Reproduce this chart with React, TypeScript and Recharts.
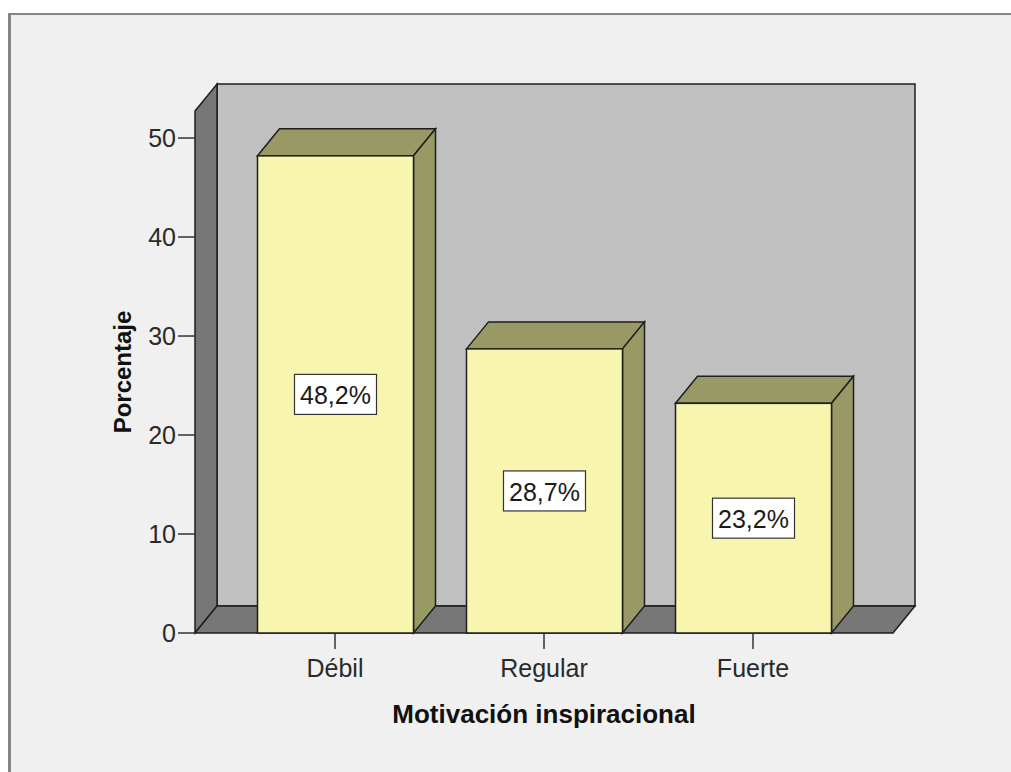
import { Bar, BarChart, LabelList, XAxis, YAxis, usePlotArea } from "recharts";

const categories = ["Débil", "Regular", "Fuerte"];
const percentages = [48.2, 28.7, 23.2];
const percentLabels = ["48,2%", "28,7%", "23,2%"];
const yTicks = [0, 10, 20, 30, 40, 50];

const FONT = '"Liberation Sans", Arial, sans-serif';
const DEPTH_X = 22;
const DEPTH_Y = 27;
const EDGE = "#1e1e1e";

const chartData = categories.map((name, i) => ({
  name,
  value: percentages[i],
  label: percentLabels[i],
}));

// back wall, left wall and floor of the 3D box
function Walls() {
  const area = usePlotArea();
  if (!area) return null;
  const { x, y, width: w, height: h } = area;
  const bx = x + DEPTH_X;
  const by = y - DEPTH_Y;
  return (
    <g>
      <rect x={bx} y={by} width={w} height={h} fill="#c0c0c0" stroke={EDGE} strokeWidth={1.5} />
      <polygon
        points={`${x},${y} ${bx},${by} ${bx},${by + h} ${x},${y + h}`}
        fill="#777777"
        stroke={EDGE}
        strokeWidth={1.5}
      />
      <polygon
        points={`${x},${y + h} ${bx},${by + h} ${bx + w},${by + h} ${x + w},${y + h}`}
        fill="#777777"
        stroke={EDGE}
        strokeWidth={1.5}
      />
    </g>
  );
}

function Bar3D(props: any) {
  const { x, y, width: w, height: h } = props;
  if (h == null || w == null) return null;
  const dx = DEPTH_X;
  const dy = DEPTH_Y;
  return (
    <g>
      <polygon
        points={`${x},${y} ${x + w},${y} ${x + w + dx},${y - dy} ${x + dx},${y - dy}`}
        fill="#999966"
        stroke={EDGE}
        strokeWidth={1.5}
      />
      <polygon
        points={`${x + w},${y} ${x + w + dx},${y - dy} ${x + w + dx},${y + h - dy} ${x + w},${y + h}`}
        fill="#999966"
        stroke={EDGE}
        strokeWidth={1.5}
      />
      <rect x={x} y={y} width={w} height={h} fill="#f8f5ae" stroke={EDGE} strokeWidth={1.5} />
    </g>
  );
}

function BoxLabel(props: any) {
  const { x, y, width, height, value } = props;
  const cx = x + width / 2;
  const cy = y + height / 2;
  const bw = 82;
  const bh = 40;
  return (
    <g>
      <rect x={cx - bw / 2} y={cy - bh / 2} width={bw} height={bh} fill="#ffffff" stroke="#333" strokeWidth={1.2} />
      <text
        x={cx}
        y={cy + 1}
        textAnchor="middle"
        dominantBaseline="central"
        fontFamily={FONT}
        fontSize={25}
        fill="#1a1a1a"
      >
        {value}
      </text>
    </g>
  );
}

function YTitle(props: any) {
  const { viewBox } = props;
  const cx = viewBox.x + 7;
  const cy = viewBox.y + viewBox.height / 2;
  return (
    <text
      x={cx}
      y={cy}
      transform={`rotate(-90, ${cx}, ${cy})`}
      textAnchor="middle"
      dominantBaseline="central"
      fontFamily={FONT}
      fontWeight="bold"
      fontSize={24}
      fill="#111"
    >
      Porcentaje
    </text>
  );
}

function XTitle(props: any) {
  const { viewBox } = props;
  const cx = viewBox.x + viewBox.width / 2;
  return (
    <text
      x={cx}
      y={viewBox.y + 81}
      textAnchor="middle"
      dominantBaseline="central"
      fontFamily={FONT}
      fontWeight="bold"
      fontSize={26}
      fill="#111"
    >
      Motivación inspiracional
    </text>
  );
}

export default function App() {
  return (
    <div style={{ position: "absolute", left: 0, top: 0, width: 1011, height: 772, background: "#ffffff" }}>
      <div
        style={{
          position: "absolute",
          left: 8,
          top: 13,
          right: 0,
          bottom: 0,
          background: "#f0f0f0",
          borderTop: "2px solid #858585",
          borderLeft: "3px solid #858585",
        }}
      />
      <div style={{ position: "absolute", left: 0, top: 0 }}>
        <BarChart
          width={1011}
          height={772}
          data={chartData}
          margin={{ top: 111, right: 118, bottom: 79, left: 115 }}
          barSize={156}
        >
          <Walls />
          <XAxis
            dataKey="name"
            height={60}
            padding={{ left: 35.5, right: 35.5 }}
            axisLine={false}
            tickSize={16}
            tickLine={{ stroke: "#333", strokeWidth: 1.5 }}
            tick={{ fontFamily: FONT, fontSize: 25, fill: "#2a2a2a" }}
            tickMargin={10}
            label={<XTitle />}
          />
          <YAxis
            width={80}
            domain={[0, 52.73]}
            ticks={yTicks}
            axisLine={false}
            tickSize={17}
            tickLine={{ stroke: "#333", strokeWidth: 1.5 }}
            tick={{ fontFamily: FONT, fontSize: 25, fill: "#2a2a2a" }}
            tickMargin={2}
            label={<YTitle />}
          />
          <Bar dataKey="value" shape={<Bar3D />} isAnimationActive={false}>
            <LabelList dataKey="label" content={<BoxLabel />} />
          </Bar>
        </BarChart>
      </div>
    </div>
  );
}
